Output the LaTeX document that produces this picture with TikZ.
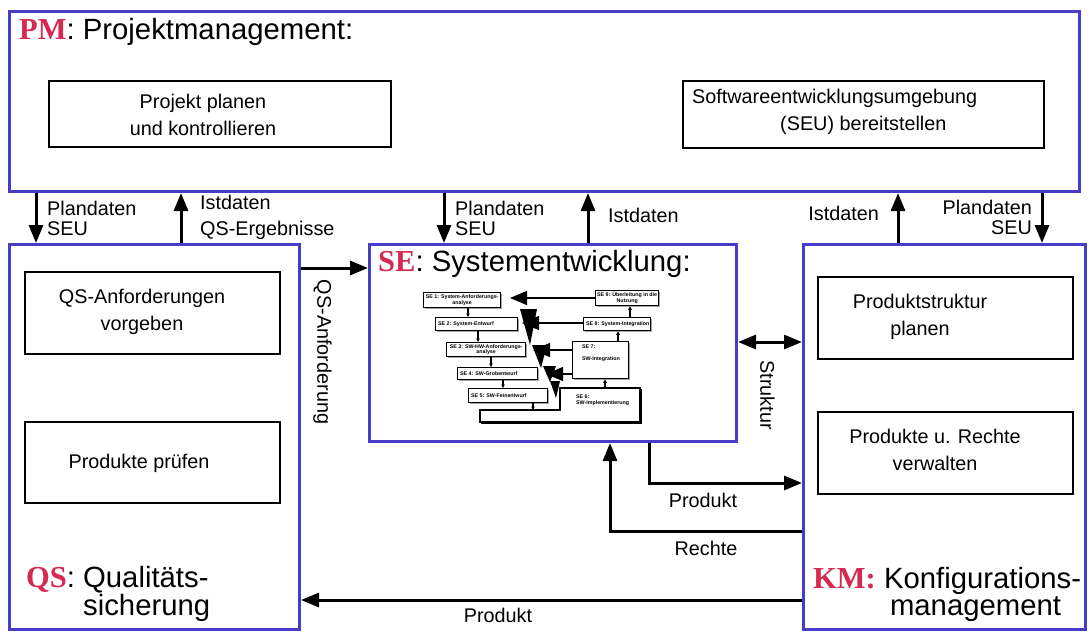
\documentclass[tikz,border=0pt]{standalone}
\usepackage{fontspec}
\setmainfont{Liberation Sans}
\newfontfamily\serifbold{Liberation Serif}
\usetikzlibrary{arrows.meta,shadows}
\definecolor{frameblue}{RGB}{70,60,200}
\definecolor{titlered}{RGB}{214,40,80}
\newcommand{\abbr}[1]{{\serifbold\fontsize{30.5}{30}\selectfont\bfseries\color{titlered}#1}}
\tikzset{
 frame/.style={draw=frameblue, line width=3pt, anchor=north west, inner sep=0pt},
 task/.style={draw=black, line width=1.8pt, anchor=north west, inner sep=0pt},
 txt/.style={font=\fontsize{19.8}{27}\selectfont, align=center, inner sep=0pt},
 lbl/.style={font=\fontsize{19.8}{20}\selectfont, inner sep=0pt},
 arr/.style={line width=3pt, -{Triangle[length=18pt,width=14pt]}},
 title/.style={font=\fontsize{29.3}{24}\selectfont, inner sep=0pt},
 mini/.style={draw=black, line width=1.3pt, fill=white, anchor=north west, inner sep=0pt,
   drop shadow={shadow xshift=1.5pt, shadow yshift=-1.5pt, fill=gray!70, opacity=1}},
 minitxt/.style={font=\fontsize{5.3}{5.8}\selectfont\bfseries, inner sep=0pt, align=center},
 miniarr/.style={line width=1.1pt, -{Triangle[length=3.5pt,width=3.5pt]}},
 retarr/.style={line width=1.3pt, -{Triangle[length=17pt,width=14pt]}},
}
\begin{document}
\begin{tikzpicture}[x=1pt,y=-1pt]
\useasboundingbox (0,0) rectangle (1092,638);
\fill[white] (0,0) rectangle (1092,638);

% frames
\node[frame, minimum width=1070pt, minimum height=180pt] (PM) at (8,10) {};
\node[frame, minimum width=290pt, minimum height=385pt] (QS) at (8,243) {};
\node[frame, minimum width=367pt, minimum height=197pt] (SE) at (368,243) {};
\node[frame, minimum width=282pt, minimum height=385pt] (KM) at (802,243) {};

% titles
\node[title, anchor=base west] (pmtitle) at (19,39) {\abbr{PM}: Projektmanagement:};
\node[title, anchor=base west] (setitle) at (378,271) {\abbr{SE}: Systementwicklung:};
\node[title, anchor=west, align=left] (qstitle) at (26,594) {\abbr{QS}: Qualitäts-\\\phantom{\abbr{QS}: }sicherung};
\node[title, anchor=west, align=left] (kmtitle) at (813,594) {\abbr{KM:} Konfigurations-\\\phantom{\abbr{KM:} }\hspace{6pt}management};

% task boxes
\node[task, minimum width=342pt, minimum height=66pt] (PP) at (48,80) {};
\node[txt] (PPt) at (203,114.5) {Projekt planen\\und kontrollieren};
\node[task, minimum width=361pt, minimum height=67pt] (SEU) at (682,80) {};
\node[txt, align=left, anchor=west] (SEUt) at (692,111.5) {Softwareentwicklungsumgebung\\\hspace*{88pt}(SEU) bereitstellen};
\node[task, minimum width=255pt, minimum height=82pt] (QA) at (24,271) {};
\node[txt] (QAt) at (142,311.5) {QS-Anforderungen\\vorgeben};
\node[task, minimum width=255pt, minimum height=81pt] (PR) at (24,421) {};
\node[txt, anchor=base] (PRt) at (139,468) {Produkte prüfen};
\node[task, minimum width=255pt, minimum height=82pt] (PS) at (817,276) {};
\node[txt] (PSt) at (920,316.5) {Produktstruktur\\planen};
\node[task, minimum width=255pt, minimum height=82pt] (PV) at (817,411) {};
\node[txt] (PVt) at (935,449.5) {Produkte u. Rechte\\verwalten};

% PM <-> others
\draw[arr] (36,0 |- PM.south) -- (36,0 |- QS.north);
\draw[arr] (181,0 |- QS.north) -- (181,0 |- PM.south);
\draw[arr] (444,0 |- PM.south) -- (444,0 |- SE.north);
\draw[arr] (588,0 |- SE.north) -- (588,0 |- PM.south);
\draw[arr] (898,0 |- KM.north) -- (898,0 |- PM.south);
\draw[arr] (1042,0 |- PM.south) -- (1042,0 |- KM.north);
\node[lbl, align=left, anchor=west] (l1) at (47,218) {Plandaten\\SEU};
\node[lbl, align=left, anchor=west, font=\fontsize{19.8}{26}\selectfont] (l2) at (200,217) {Istdaten\\QS-Ergebnisse};
\node[lbl, align=left, anchor=west] (l3) at (455,218) {Plandaten\\SEU};
\node[lbl, anchor=base west] (l4) at (608,222) {Istdaten};
\node[lbl, anchor=base east] (l5) at (879,220) {Istdaten};
\node[lbl, align=right, anchor=east] (l6) at (1032,217) {Plandaten\\SEU};

% QS -> SE
\draw[arr] (QS.east |- 0,268) -- (SE.west |- 0,268);
\node[lbl, rotate=-90] (l7) at (322.5,352) {QS-Anforderung};
% SE <-> KM
\draw[line width=3pt, {Triangle[length=18pt,width=14pt]}-{Triangle[length=18pt,width=14pt]}] (SE.east |- 0,342) -- (KM.west |- 0,342);
\node[lbl, rotate=-90] (l8) at (767.5,395) {Struktur};
% SE -> KM Produkt
\draw[arr] (649,0 |- SE.south) -- (649,483) -- (KM.west |- 0,483);
\node[lbl, anchor=base] (l9) at (703,507) {Produkt};
% KM -> SE Rechte
\draw[arr] (KM.west |- 0,531) -- (610,531) -- (610,0 |- SE.south);
\node[lbl, anchor=base] (l10) at (706,555) {Rechte};
% KM -> QS Produkt
\draw[arr] (KM.west |- 0,600) -- (QS.east |- 0,600);
\node[lbl, anchor=base] (l11) at (498,622) {Produkt};

% mini V-model
\node[mini, minimum width=77pt, minimum height=15pt] (m1) at (423,292) {};
\node[minitxt] at (m1.center) {SE 1: System-Anforderungs-\\analyse};
\node[mini, minimum width=82pt, minimum height=13pt] (m2) at (435,317) {};
\node[minitxt, anchor=west] at ([xshift=3pt]m2.west) {SE 2: System-Entwurf};
\node[mini, minimum width=79pt, minimum height=14pt] (m3) at (446,342) {};
\node[minitxt] at (m3.center) {SE 3: SW-HW-Anforderungs-\\analyse};
\node[mini, minimum width=80pt, minimum height=12pt] (m4) at (457,367) {};
\node[minitxt, anchor=west] at ([xshift=3pt]m4.west) {SE 4: SW-Grobentwurf};
\node[mini, minimum width=79pt, minimum height=14pt] (m5) at (468,388) {};
\node[minitxt, anchor=west] at ([xshift=3pt]m5.west) {SE 5: SW-Feinentwurf};
\draw[line width=1.3pt, fill=gray!70] (481.5,411.5) -- (561.5,411.5) -- (561.5,389.5) -- (641.5,389.5) -- (641.5,423.5) -- (481.5,423.5) -- cycle;
\draw[line width=1.3pt, fill=white] (480,410) -- (560,410) -- (560,388) -- (640,388) -- (640,422) -- (480,422) -- cycle;
\coordinate (m6a) at (533,410);
\coordinate (m6b) at (605,388);
\node[minitxt, align=left, anchor=north west] (m6t) at (576,395) {SE 6:\\SW-Implementierung};
\node[mini, minimum width=56pt, minimum height=37pt] (m7) at (572,341) {};
\node[minitxt, align=left, anchor=north west, font=\fontsize{5.3}{12}\selectfont\bfseries] at (582,345) {SE 7:\\SW-Integration};
\node[mini, minimum width=67pt, minimum height=13pt] (m8) at (583,317) {};
\node[minitxt, anchor=west] at ([xshift=3pt]m8.west) {SE 8: System-Integration};
\node[mini, minimum width=63pt, minimum height=15pt] (m9) at (595,290) {};
\node[minitxt] at (m9.center) {SE 9: Überleitung in die\\Nutzung};

\draw[miniarr] (468,0 |- m1.south) -- (468,0 |- m2.north);
\draw[miniarr] (478,0 |- m2.south) -- (478,0 |- m3.north);
\draw[miniarr] (491,0 |- m3.south) -- (491,0 |- m4.north);
\draw[miniarr] (503,0 |- m4.south) -- (503,0 |- m5.north);
\draw[miniarr] (533,0 |- m5.south) -- (m6a);
\draw[miniarr] (m6b) -- (605,0 |- m7.south);
\draw[miniarr] (618,0 |- m7.north) -- (618,0 |- m8.south);
\draw[miniarr] (630,0 |- m8.north) -- (630,0 |- m9.south);

\draw[retarr] (m9.west |- 0,298) -- (510,298);
\draw[retarr] (m8.west |- 0,323) -- (522,323);
\draw[retarr] (m7.west |- 0,350) -- (533,350);
\draw[retarr] (m7.west |- 0,374) -- (546,374);
\fill (520,309) -- (537,309) -- (530,345) -- cycle;
\fill (532,345) -- (547,345) -- (541,368) -- cycle;
\fill (543,366) -- (556,366) -- (550,382) -- cycle;
\fill (550,381) -- (560,381) -- (556,398) -- cycle;
\end{tikzpicture}
\end{document}
